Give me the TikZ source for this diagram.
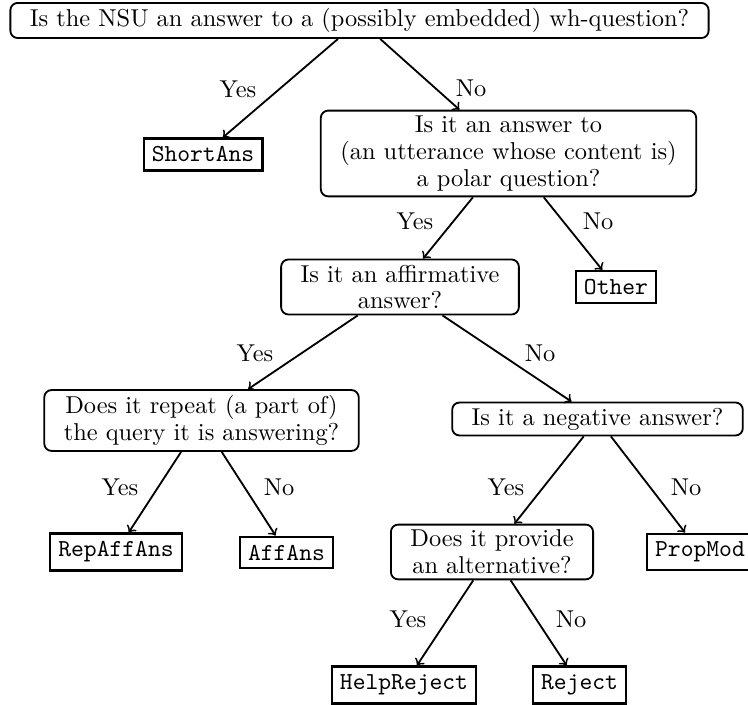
\documentclass[tikz,border=0pt]{standalone}
\begin{document}
\begin{tikzpicture}[x=0.41pt,y=-0.41pt,
  qbox/.style={draw,rounded corners=3pt,line width=0.75pt,align=center,inner xsep=8pt,inner ysep=2.2pt,font=\fontsize{10}{11}\selectfont},
  leaf/.style={draw,line width=0.95pt,inner sep=3.33pt,font=\ttfamily},
  lbl/.style={inner sep=0pt},
  conn/.style={->,line width=0.75pt}]
\clip (0,0) rectangle (748,705);
\node[qbox] (root) at (359.5,20.5) {Is the NSU an answer to a (possibly embedded) wh-question?};
\node[leaf] (shortans) at (203,154.5) {ShortAns};
\node[qbox] (q2) at (508.5,153.5) {Is it an answer to\\(an utterance whose content is)\\a polar question?};
\node[qbox] (q3) at (400,287) {Is it an affirmative\\answer?};
\node[leaf] (other) at (616,287) {Other};
\node[qbox] (q4) at (201.5,420.5) {Does it repeat (a part of)\\the query it is answering?};
\node[qbox] (q5) at (597.5,419) {Is it a negative answer?};
\node[leaf] (repaff) at (116,552) {RepAffAns};
\node[leaf] (affans) at (286.5,552.5) {AffAns};
\node[qbox] (q6) at (492,552) {Does it provide\\an alternative?};
\node[leaf] (propmod) at (700,552) {PropMod};
\node[leaf] (helprej) at (404,685) {HelpReject};
\node[leaf] (reject) at (579.5,685) {Reject};
\draw[conn] (root) -- (shortans);
\draw[conn] (root) -- (q2);
\draw[conn] (q2) -- (q3);
\draw[conn] (q2) -- (other);
\draw[conn] (q3) -- (q4);
\draw[conn] (q3) -- (q5);
\draw[conn] (q4) -- (repaff);
\draw[conn] (q4) -- (affans);
\draw[conn] (q5) -- (q6);
\draw[conn] (q5) -- (propmod);
\draw[conn] (q6) -- (helprej);
\draw[conn] (q6) -- (reject);
\node[lbl] (l1) at (238,89) {Yes};
\node[lbl] (l2) at (471,88) {No};
\node[lbl] (l3) at (415,221) {Yes};
\node[lbl] (l4) at (598,221) {No};
\node[lbl] (l5) at (255,353) {Yes};
\node[lbl] (l6) at (540,353) {No};
\node[lbl] (l7) at (120,487) {Yes};
\node[lbl] (l8) at (279,487) {No};
\node[lbl] (l9) at (506,487) {Yes};
\node[lbl] (l10) at (686,487) {No};
\node[lbl] (l11) at (408,619) {Yes};
\node[lbl] (l12) at (571,619) {No};
\end{tikzpicture}
\end{document}
